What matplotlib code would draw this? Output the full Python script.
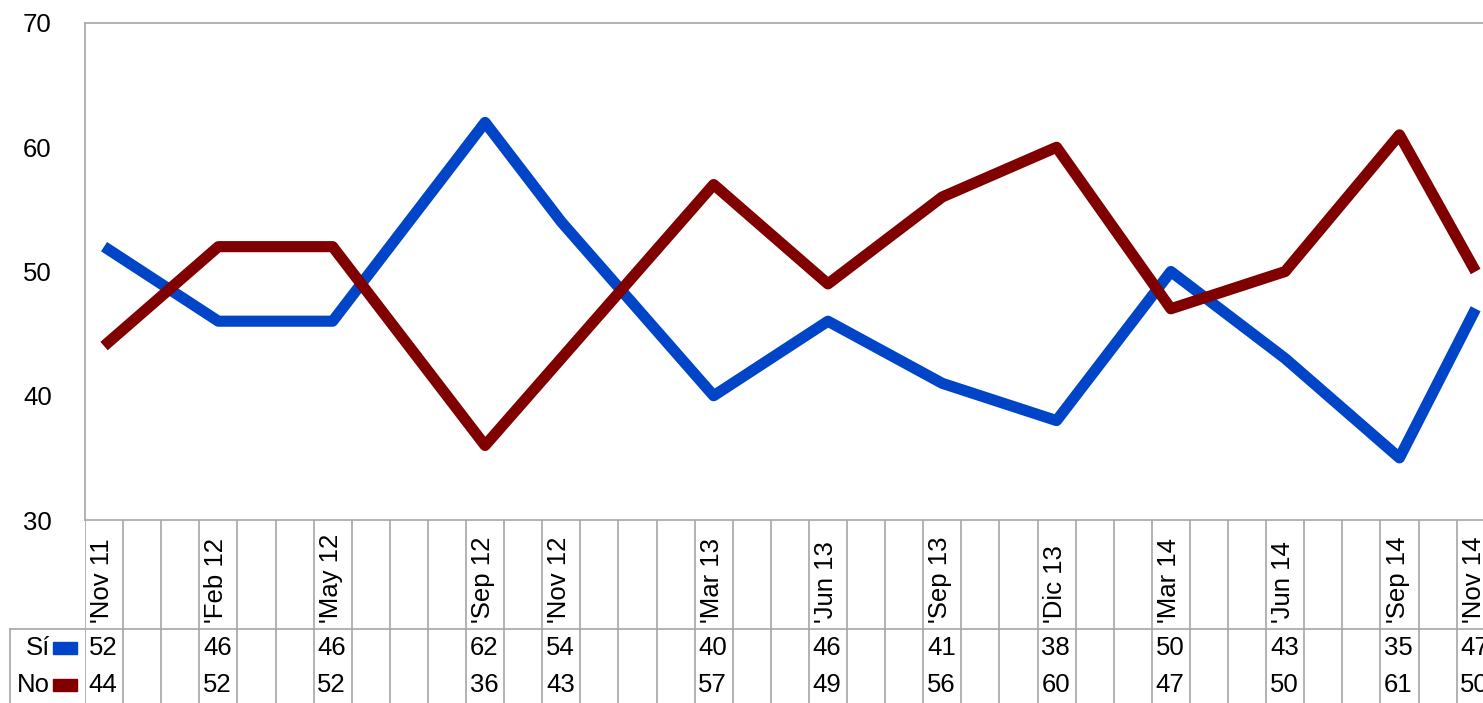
import numpy as np
import pandas as pd
import matplotlib
matplotlib.use('Agg')
import matplotlib.pyplot as plt
from matplotlib.patches import Rectangle
from matplotlib.transforms import blended_transform_factory

plt.rcParams['font.family'] = ['Liberation Sans', 'DejaVu Sans']

# data
dates = ['2011-11', '2012-02', '2012-05', '2012-09', '2012-11', '2013-03', '2013-06',
         '2013-09', '2013-12', '2014-03', '2014-06', '2014-09', '2014-11']
labels = ["'Nov 11", "'Feb 12", "'May 12", "'Sep 12", "'Nov 12", "'Mar 13", "'Jun 13",
          "'Sep 13", "'Dic 13", "'Mar 14", "'Jun 14", "'Sep 14", "'Nov 14"]
si = [52, 46, 46, 62, 54, 40, 46, 41, 38, 50, 43, 35, 47]
no = [44, 52, 52, 36, 43, 57, 49, 56, 60, 47, 50, 61, 50]

blue = '#0044C8'
red = '#800000'
grid = '#A6A6A6'
fs = 18.5

per = pd.PeriodIndex(dates, freq='M')
idx = np.array([(p - per[0]).n for p in per])
n_cols = 37
xc = idx + 0.5

W, H = 1483, 703
fig = plt.figure(figsize=(W / 100, H / 100), dpi=100)
ax = fig.add_axes([85 / W, 1 - 520 / H, n_cols * 38.1 / W, 497 / H])
tab = fig.add_axes([85 / W, 0, n_cols * 38.1 / W, 183 / H], sharex=ax)

ax.plot(xc, si, color=blue, lw=8, solid_joinstyle='round', solid_capstyle='butt', zorder=3)
ax.plot(xc, no, color=red, lw=8, solid_joinstyle='round', solid_capstyle='butt', zorder=3)
ax.set_xlim(0, n_cols)
ax.set_ylim(30, 70)
ax.set_yticks([30, 40, 50, 60, 70])
ax.tick_params(axis='y', length=0, pad=24, labelsize=fs)
ax.tick_params(axis='x', length=0, labelbottom=False)
for s in ax.spines.values():
    s.set_color(grid)
    s.set_linewidth(1.2)

# table below
tab.set_ylim(0, 183)
tab.axis('off')
for i in range(n_cols + 1):
    tab.axvline(i, color=grid, lw=1.2)
bt = blended_transform_factory(fig.transFigure, tab.transData)
tab.plot([10 / W, 1], [74, 74], color=grid, lw=1.2, transform=bt, clip_on=False)
tab.plot([10 / W, 10 / W], [0, 74], color=grid, lw=1.2, transform=bt, clip_on=False)

for x, lab in zip(xc, labels):
    tab.text(x - 0.05, 80, lab, rotation=90, ha='center', va='bottom', fontsize=fs)
for x, a, b in zip(idx, si, no):
    tab.text(x + 0.1, 55, str(a), ha='left', va='center', fontsize=fs)
    tab.text(x + 0.1, 18, str(b), ha='left', va='center', fontsize=fs)

for y, name, c in [(55, 'Sí', blue), (18, 'No', red)]:
    tab.text(50 / W, y, name, ha='right', va='center', fontsize=fs, transform=bt)
    tab.add_patch(Rectangle((53 / W, y - 6), 24 / W, 12, color=c, transform=bt, clip_on=False))

fig.savefig('out.png', dpi=100)
